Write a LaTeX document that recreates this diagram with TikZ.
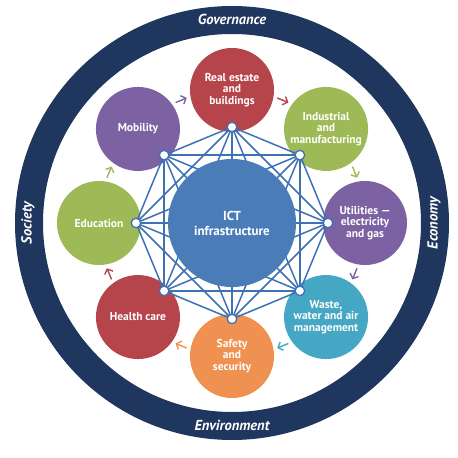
\documentclass[tikz,border=0pt]{standalone}
\usepackage{fontspec}
\setmainfont{PT Sans}
\usetikzlibrary{arrows.meta}
\definecolor{navy}{HTML}{1F365F}
\definecolor{ictblue}{HTML}{4A7DB8}
\definecolor{lineblue}{HTML}{3E72B5}
\definecolor{cred}{HTML}{B5444B}
\definecolor{cgreen}{HTML}{9DBA57}
\definecolor{cpurple}{HTML}{7C62A2}
\definecolor{cteal}{HTML}{45A7C3}
\definecolor{corange}{HTML}{EF9150}
\tikzset{
  sector/.style={circle, minimum size=84pt, inner sep=0pt, text=white, align=center,
    font=\fontsize{11.5}{11.8}\selectfont\bfseries},
  ringlabel/.style={text=white, font=\fontsize{14.5}{16}\selectfont\bfseries\itshape},
  link/.style={lineblue, line width=1.5pt},
  dot/.style={circle, fill=white, draw=lineblue, line width=1.3pt, minimum size=9.5pt, inner sep=0pt},
  flow/.style={line width=1.4pt, -{Straight Barb[length=4pt,width=9pt]}}
}
\begin{document}
\begin{tikzpicture}[x=1pt,y=1pt]
\useasboundingbox[fill=white] (0,0) rectangle (458,458);
\coordinate (O) at (232,235);
% outer ring
\draw[navy, line width=28pt] (O) circle (203);
\node[ringlabel] (gov) at (232,439) {Governance};
\node[ringlabel] (env) at (232,33) {Environment};
\node[ringlabel, rotate=90] (soc) at (28,235) {Society};
\node[ringlabel, rotate=90] (eco) at (434,235) {Economy};
% sector circles
\path (O) ++(90:133) node[sector, fill=cred] (c0) {Real estate\\and\\buildings};
\path (O) ++(45:133) node[sector, fill=cgreen] (c1) {Industrial\\and\\manufacturing};
\path (O) ++(0:133) node[sector, fill=cpurple] (c2) {Utilities —\\electricity\\and gas};
\path (O) ++(-45:133) node[sector, fill=cteal] (c3) {Waste,\\water and air\\management};
\path (O) ++(-90:133) node[sector, fill=corange] (c4) {Safety\\and\\security};
\path (O) ++(-135:133) node[sector, fill=cred] (c5) {Health care};
\path (O) ++(180:133) node[sector, fill=cgreen] (c6) {Education};
\path (O) ++(135:133) node[sector, fill=cpurple] (c7) {Mobility};
% flow arrows
\foreach \a/\col [count=\i from 0] in {112.5/cpurple, 67.5/cred, 22.5/cgreen, -22.5/cpurple, -67.5/cteal, -112.5/corange, -157.5/cred, 157.5/cgreen}{
  \pgfmathsetmacro\aa{\a+2.6}
  \pgfmathsetmacro\ab{\a-2.6}
  \path (O) ++(\aa:133) coordinate (fs\i);
  \path (O) ++(\ab:133) coordinate (fe\i);
  \draw[flow, \col] (fs\i) -- (fe\i);
}
% network vertices
\foreach \i in {0,...,7}{
  \pgfmathsetmacro\ang{90-45*\i}
  \path (O) ++(\ang:96) coordinate (v\i);
}
\foreach \i in {0,...,6}{
  \pgfmathtruncatemacro\k{\i+1}
  \foreach \j in {\k,...,7}{
    \draw[link] (v\i) -- (v\j);
  }
}
% ICT hub
\node[circle, fill=ictblue, minimum size=128pt, inner sep=0pt, text=white, align=center,
  font=\fontsize{13}{15}\selectfont\bfseries] (ict) at (O) {ICT\\infrastructure};
\foreach \i in {0,...,7}{
  \node[dot] (d\i) at (v\i) {};
}
\end{tikzpicture}
\end{document}
